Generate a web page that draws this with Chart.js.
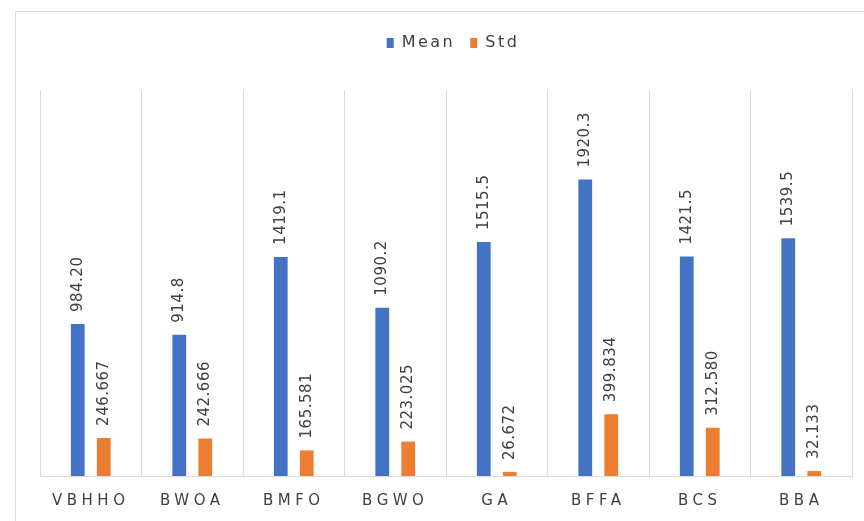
<!DOCTYPE html>
<html>
<head>
<meta charset="utf-8">
<script src="https://cdn.jsdelivr.net/npm/chart.js@4.4.1/dist/chart.umd.min.js"></script>
<style>
  html, body { margin: 0; padding: 0; background: #fff; }
  #wrap { width: 864px; height: 521px; }
</style>
</head>
<body>
<div id="wrap"><canvas id="myChart" width="864" height="521"></canvas></div>
<script>
// categories and values
var algos = ['VBHHO', 'BWOA', 'BMFO', 'BGWO', 'GA', 'BFFA', 'BCS', 'BBA'];
var meanText = ['984.20', '914.8', '1419.1', '1090.2', '1515.5', '1920.3', '1421.5', '1539.5'];
var stdText = ['246.667', '242.666', '165.581', '223.025', '26.672', '399.834', '312.580', '32.133'];
var yMax = 2500;

var meanVals = meanText.map(Number),
    stdVals = stdText.map(Number);

// frame round the chart (like the excel chart border)
var framePlugin = {
  id: 'frame',
  beforeDraw: function(chart) {
    var c = chart.ctx;
    c.save();
    c.fillStyle = '#fff';
    c.fillRect(0, 0, chart.width, chart.height);
    c.strokeStyle = '#d9d9d9';
    c.lineWidth = 1;
    c.strokeRect(15.5, 11.5, 1000, 1000);
    c.restore();
  }
};

// rotated value labels above the bars
var labelPlugin = {
  id: 'valLabels',
  afterDatasetsDraw: function(chart) {
    var c = chart.ctx;
    var texts = [meanText, stdText];
    chart.data.datasets.forEach(function(ds, di) {
      var meta = chart.getDatasetMeta(di);
      meta.data.forEach(function(bar, i) {
        c.save();
        c.translate(bar.x, bar.y - 12);
        c.rotate(-Math.PI / 2);
        c.font = '15px "DejaVu Sans"';
        c.letterSpacing = '0.5px';
        c.fillStyle = '#404040';
        c.textAlign = 'left';
        c.textBaseline = 'middle';
        c.fillText(texts[di][i], 0, 0);
        c.restore();
      });
    });
  }
};

// excel spreads the letters out, canvas can do that with letterSpacing
function spaced(obj, method, px, dx) {
  var orig = obj[method];
  obj[method] = function() {
    var c = this.ctx;
    c.save();
    c.letterSpacing = px;
    if (dx) c.translate(dx, 0);
    var r = orig.apply(this, arguments);
    c.restore();
    return r;
  };
}

const ctx = document.getElementById('myChart').getContext('2d');
const myChart = new Chart(ctx, {
  type: 'bar',
  data: {
    labels: algos,
    datasets: [{
      label: 'Mean',
      data: meanVals,
      backgroundColor: '#4472C4',
      borderWidth: 0
    }, {
      label: 'Std',
      data: stdVals,
      backgroundColor: '#ED7D31',
      borderWidth: 0
    }]
  },
  options: {
    responsive: false,
    animation: false,
    categoryPercentage: 0.512,
    barPercentage: 0.53,
    layout: {
      padding: { left: 40, right: 12, top: 20, bottom: 0 }
    },
    plugins: {
      tooltip: { enabled: false },
      legend: {
        position: 'top',
        labels: {
          boxWidth: 7,
          boxHeight: 10,
          padding: 15,
          color: '#404040',
          font: { family: 'DejaVu Sans', size: 16 }
        }
      }
    },
    scales: {
      x: {
        grid: { color: '#d9d9d9', drawTicks: false, offset: true },
        border: { color: '#d9d9d9' },
        ticks: {
          color: '#404040',
          padding: 16,
          font: { family: 'DejaVu Sans', size: 15 }
        },
        afterFit: function(scale) { scale.height = 45; }
      },
      y: {
        display: false,
        min: 0,
        max: yMax
      }
    }
  },
  plugins: [framePlugin, labelPlugin]
});

spaced(myChart.legend, 'fit', '2.5px');
spaced(myChart.legend, 'draw', '2.5px', 7);
spaced(myChart.scales.x, 'drawLabels', '4.5px');
// legend block height so the plot starts where excel put it
var legendFit = myChart.legend.fit;
myChart.legend.fit = function() {
  legendFit.apply(this, arguments);
  this.height = 70;
};
myChart.update();
</script>
</body>
</html>
